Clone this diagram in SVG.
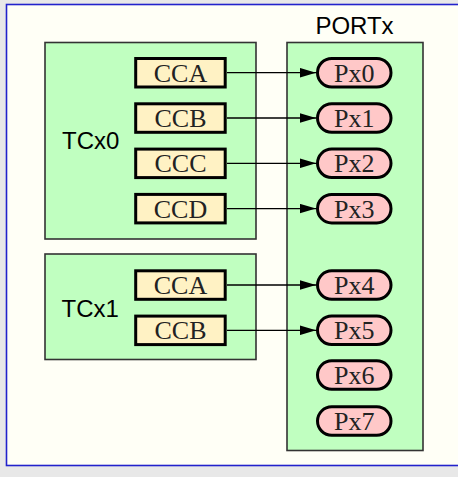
<svg xmlns="http://www.w3.org/2000/svg" width="458" height="477" viewBox="0 0 458 477">
<style>
.grp{fill:#c0ffc0;stroke:#333333;stroke-width:1.6}
.cc{fill:#fff2c4;stroke:#000;stroke-width:3}
.pin{fill:#ffc8c8;stroke:#000;stroke-width:3}
.sans{font-family:"Liberation Sans",Arial,sans-serif;font-size:24px;fill:#000}
.serif{font-family:"Liberation Serif","Times New Roman",serif;font-size:26px;fill:#222;text-anchor:middle}
.conn{stroke:#000;stroke-width:1.3;fill:none;marker-end:url(#arr)}
</style>
<defs>
<marker id="arr" markerUnits="userSpaceOnUse" markerWidth="16" markerHeight="10" refX="16" refY="5" orient="auto">
<path d="M0,0.25 L16,5 L0,9.75 z" fill="#000"/>
</marker>
</defs>
<rect x="0" y="0" width="458" height="477" fill="#e8e8e8"/>
<rect x="6.5" y="4.5" width="460" height="461" fill="#fffff6" stroke="#2222cc" stroke-width="1.6"/>
<g id="TCx0">
<rect class="grp" x="45" y="42.5" width="211" height="196.5"/>
<text class="sans" x="62" y="149.3">TCx0</text>
</g>
<g id="TCx1">
<rect class="grp" x="45" y="254" width="211" height="105.5"/>
<text class="sans" x="61.5" y="316.7">TCx1</text>
</g>
<g id="PORTx">
<rect class="grp" x="287" y="42.5" width="136" height="408"/>
<text class="sans" x="354.5" y="34" text-anchor="middle">PORTx</text>
</g>
<g id="TCx0_CCA"><rect class="cc" x="135.7" y="58.5" width="89.5" height="28.5"/><text class="serif" x="180.5" y="81.7">CCA</text></g>
<g id="TCx0_CCB"><rect class="cc" x="135.7" y="103.8" width="89.5" height="28.5"/><text class="serif" x="180.5" y="127">CCB</text></g>
<g id="TCx0_CCC"><rect class="cc" x="135.7" y="149.1" width="89.5" height="28.5"/><text class="serif" x="180.5" y="172.3">CCC</text></g>
<g id="TCx0_CCD"><rect class="cc" x="135.7" y="194.4" width="89.5" height="28.5"/><text class="serif" x="180.5" y="217.6">CCD</text></g>
<g id="TCx1_CCA"><rect class="cc" x="135.7" y="270.8" width="89.5" height="28.5"/><text class="serif" x="180.5" y="294">CCA</text></g>
<g id="TCx1_CCB"><rect class="cc" x="135.7" y="316.1" width="89.5" height="28.5"/><text class="serif" x="180.5" y="339.3">CCB</text></g>
<g id="Px0"><rect class="pin" x="317.5" y="58.5" width="73.5" height="28.5" rx="14.25"/><text class="serif" x="354.3" y="81.7">Px0</text></g>
<g id="Px1"><rect class="pin" x="317.5" y="103.8" width="73.5" height="28.5" rx="14.25"/><text class="serif" x="354.3" y="127">Px1</text></g>
<g id="Px2"><rect class="pin" x="317.5" y="149.1" width="73.5" height="28.5" rx="14.25"/><text class="serif" x="354.3" y="172.3">Px2</text></g>
<g id="Px3"><rect class="pin" x="317.5" y="194.4" width="73.5" height="28.5" rx="14.25"/><text class="serif" x="354.3" y="217.6">Px3</text></g>
<g id="Px4"><rect class="pin" x="317.5" y="270.8" width="73.5" height="28.5" rx="14.25"/><text class="serif" x="354.3" y="294">Px4</text></g>
<g id="Px5"><rect class="pin" x="317.5" y="316.1" width="73.5" height="28.5" rx="14.25"/><text class="serif" x="354.3" y="339.3">Px5</text></g>
<g id="Px6"><rect class="pin" x="317.5" y="360.8" width="73.5" height="28.5" rx="14.25"/><text class="serif" x="354.3" y="384">Px6</text></g>
<g id="Px7"><rect class="pin" x="317.5" y="406.8" width="73.5" height="28.5" rx="14.25"/><text class="serif" x="354.3" y="430">Px7</text></g>
<g id="connectors">
<line class="conn" x1="227" y1="72.7" x2="316" y2="72.7"/>
<line class="conn" x1="227" y1="118" x2="316" y2="118"/>
<line class="conn" x1="227" y1="163.3" x2="316" y2="163.3"/>
<line class="conn" x1="227" y1="208.6" x2="316" y2="208.6"/>
<line class="conn" x1="227" y1="285" x2="316" y2="285"/>
<line class="conn" x1="227" y1="330.3" x2="316" y2="330.3"/>
</g>
</svg>
